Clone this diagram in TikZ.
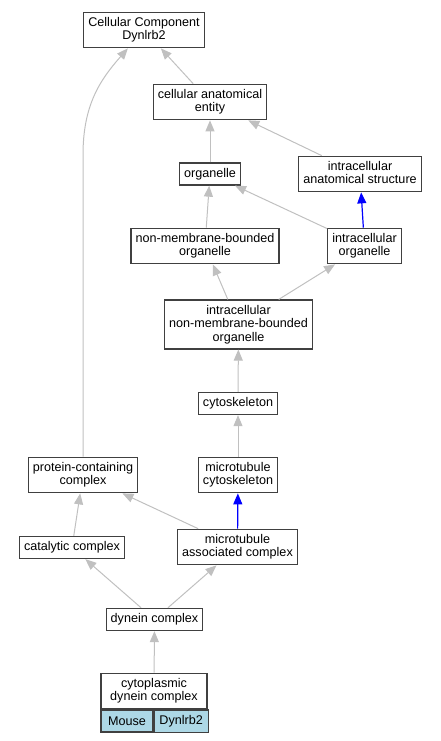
\documentclass[tikz,border=0pt]{standalone}
\usepackage{fontspec}
\setmainfont{Liberation Sans}
\usetikzlibrary{arrows.meta,positioning}
\definecolor{edgegray}{RGB}{192,192,192}
\definecolor{framegray}{RGB}{64,64,64}
\definecolor{taxonblue}{RGB}{173,216,230}
\begin{document}
\begin{tikzpicture}[x=1pt, y=-1pt,
    term/.style={rectangle, draw=framegray, line width=1.2pt, fill=white, inner xsep=4.6pt, inner ysep=5.2pt, align=center, font=\fontsize{12.6}{13.4}\selectfont},
    cell/.style={term, fill=taxonblue, minimum height=22pt, inner xsep=0pt},
    isa/.style={draw=edgegray, line width=1pt, -{Triangle[length=11pt,width=9pt,fill=edgegray]}},
    partof/.style={draw=blue, line width=1.2pt, -{Triangle[length=11pt,width=9pt,fill=blue]}}]
    \useasboundingbox (0, 0) rectangle (440, 741);

    % Nodes
    \node[term] at (144, 30) (cc) {Cellular Component\\Dynlrb2};
    \node[term] at (210, 102) (cae) {cellular anatomical\\entity};
    \node[term] at (210, 174) (org) {organelle};
    \node[term] at (360, 174) (ias) {intracellular\\anatomical structure\vphantom{y}};
    \node[term] at (205, 246) (nmbo) {non-membrane-bounded\\organelle};
    \node[term] at (364.5, 246) (io) {intracellular\\organelle};
    \node[term] at (238.5, 324.5) (inmbo) {intracellular\\non-membrane-bounded\\organelle};
    \node[term] at (238, 403.5) (cyto) {cytoskeleton};
    \node[term] at (83, 475) (pcc) {protein-containing\\complex};
    \node[term] at (238, 475) (mtc) {microtubule\\cytoskeleton};
    \node[term] at (72, 547.5) (cat) {catalytic complex};
    \node[term] at (237.5, 547) (mac) {microtubule\\associated complex};
    \node[term] at (154.5, 619.5) (dyn) {dynein complex};
    \node[term, minimum width=106pt] at (154, 691) (cdc) {cytoplasmic\\dynein complex};
    \node[cell, minimum width=52pt, anchor=north west] at (cdc.south west) (mouse) {Mouse};
    \node[cell, anchor=north west, minimum width=54pt] at (mouse.north east) (gene) {Dynlrb2};

    \coordinate (bend) at (83, 155);

    % Edges
    \draw[isa] (cae) -- (cc);
    \draw[isa] (org) -- (cae);
    \draw[isa] (ias) -- (cae);
    \draw[isa] (nmbo) -- (org);
    \draw[isa] (io) -- (org);
    \draw[partof] (io) -- (ias);
    \draw[isa] (inmbo) -- (nmbo);
    \draw[isa] (inmbo) -- (io);
    \draw[isa] (cyto) -- (inmbo);
    \draw[isa] (mtc) -- (cyto);
    \draw[partof] (mac) -- (mtc);
    \draw[isa] (mac) -- (pcc);
    \draw[isa] (cat) -- (pcc);
    \draw[isa] (pcc) -- (bend) .. controls (83, 105) and (100, 80) .. (cc);
    \draw[isa] (dyn) -- (cat);
    \draw[isa] (dyn) -- (mac);
    \draw[isa] (cdc) -- (dyn);

  \end{tikzpicture}
\end{document}
